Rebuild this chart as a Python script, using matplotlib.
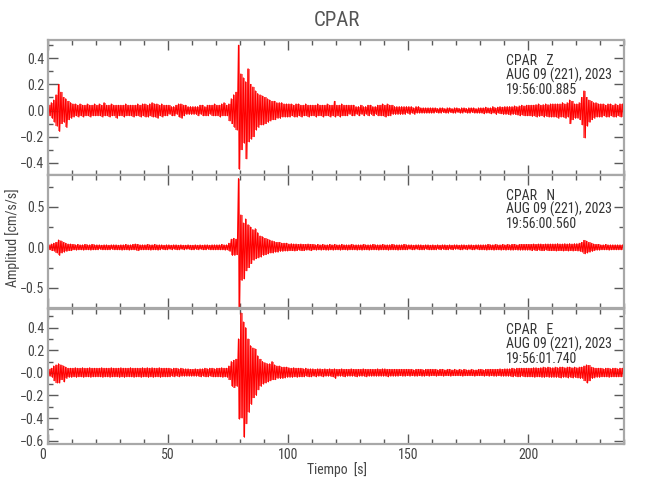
import os
import numpy as np
import matplotlib
matplotlib.use("Agg")
import matplotlib.pyplot as plt
import matplotlib.font_manager as fm
from matplotlib.ticker import MultipleLocator, FixedLocator, FixedFormatter
import matplotlib.transforms as mtransforms

# ---------------- data (envelope peaks read per 1 s bin) ----------------
station = "CPAR"
components = ["Z", "N", "E"]
start_times = ["19:56:00.885", "19:56:00.560", "19:56:01.740"]
date_label = "AUG 09 (221), 2023"

z_hi = [0.04, 0.06, 0.08, 0.12, 0.20, 0.14, 0.10, 0.09, 0.07, 0.06,
        0.05, 0.05, 0.04, 0.05, 0.04, 0.04, 0.05, 0.04, 0.04, 0.05,
        0.04, 0.05, 0.04, 0.06, 0.04, 0.04, 0.05, 0.04, 0.04, 0.04,
        0.04, 0.04, 0.05, 0.04, 0.04, 0.04, 0.04, 0.05, 0.04, 0.05,
        0.05, 0.04, 0.05, 0.06, 0.05, 0.05, 0.04, 0.05, 0.04, 0.04,
        0.04, 0.03, 0.03, 0.04, 0.05, 0.05, 0.04, 0.04, 0.03, 0.03,
        0.03, 0.03, 0.03, 0.04, 0.04, 0.03, 0.04, 0.04, 0.04, 0.05,
        0.04, 0.04, 0.05, 0.06, 0.04, 0.05, 0.09, 0.12, 0.14, 0.50,
        0.28, 0.25, 0.22, 0.32, 0.20, 0.18, 0.15, 0.13, 0.12, 0.11,
        0.10, 0.09, 0.08, 0.07, 0.07, 0.06, 0.06, 0.06, 0.05, 0.05,
        0.05, 0.05, 0.04, 0.05, 0.05, 0.04, 0.04, 0.05, 0.04, 0.04,
        0.04, 0.04, 0.05, 0.04, 0.04, 0.04, 0.05, 0.04, 0.04, 0.07,
        0.04, 0.04, 0.05, 0.04, 0.04, 0.04, 0.04, 0.04, 0.03, 0.03,
        0.04, 0.03, 0.03, 0.04, 0.04, 0.03, 0.03, 0.04, 0.04, 0.05,
        0.04, 0.05, 0.04, 0.04, 0.03, 0.03, 0.03, 0.03, 0.03, 0.03,
        0.03, 0.03, 0.02, 0.03, 0.03, 0.02, 0.02, 0.02, 0.02, 0.02,
        0.02, 0.02, 0.015, 0.02, 0.02, 0.015, 0.02, 0.02, 0.015, 0.02,
        0.02, 0.015, 0.02, 0.02, 0.015, 0.02, 0.02, 0.02, 0.015, 0.02,
        0.02, 0.02, 0.025, 0.02, 0.02, 0.03, 0.02, 0.025, 0.03, 0.025,
        0.03, 0.03, 0.03, 0.03, 0.035, 0.03, 0.035, 0.04, 0.035, 0.04,
        0.04, 0.04, 0.04, 0.045, 0.05, 0.04, 0.045, 0.05, 0.045, 0.05,
        0.05, 0.05, 0.05, 0.05, 0.06, 0.05, 0.06, 0.08, 0.07, 0.05,
        0.05, 0.06, 0.10, 0.15, 0.10, 0.08, 0.07, 0.06, 0.06, 0.05,
        0.05, 0.05, 0.04, 0.05, 0.05, 0.04, 0.05, 0.04, 0.05, 0.05]
z_lo = [-0.04, -0.06, -0.09, -0.12, -0.16, -0.10, -0.09, -0.13, -0.07, -0.06,
        -0.05, -0.04, -0.05, -0.04, -0.05, -0.04, -0.04, -0.05, -0.04, -0.04,
        -0.04, -0.04, -0.05, -0.04, -0.04, -0.05, -0.04, -0.04, -0.06, -0.04,
        -0.04, -0.05, -0.04, -0.04, -0.04, -0.05, -0.04, -0.04, -0.05, -0.04,
        -0.05, -0.05, -0.04, -0.05, -0.05, -0.06, -0.04, -0.05, -0.04, -0.04,
        -0.03, -0.04, -0.04, -0.03, -0.05, -0.06, -0.04, -0.03, -0.03, -0.03,
        -0.03, -0.03, -0.04, -0.03, -0.04, -0.04, -0.04, -0.03, -0.04, -0.04,
        -0.04, -0.05, -0.04, -0.04, -0.04, -0.08, -0.10, -0.13, -0.15, -0.45,
        -0.30, -0.25, -0.37, -0.24, -0.22, -0.20, -0.15, -0.13, -0.11, -0.11,
        -0.10, -0.09, -0.08, -0.07, -0.07, -0.06, -0.06, -0.05, -0.05, -0.05,
        -0.05, -0.04, -0.05, -0.05, -0.04, -0.05, -0.04, -0.04, -0.05, -0.04,
        -0.04, -0.05, -0.04, -0.04, -0.05, -0.04, -0.04, -0.05, -0.04, -0.05,
        -0.04, -0.05, -0.04, -0.04, -0.04, -0.03, -0.04, -0.04, -0.03, -0.04,
        -0.03, -0.04, -0.03, -0.04, -0.03, -0.04, -0.03, -0.04, -0.04, -0.04,
        -0.05, -0.04, -0.04, -0.03, -0.03, -0.03, -0.03, -0.03, -0.03, -0.02,
        -0.03, -0.02, -0.03, -0.02, -0.02, -0.02, -0.02, -0.02, -0.02, -0.02,
        -0.02, -0.015, -0.02, -0.02, -0.015, -0.02, -0.02, -0.015, -0.02, -0.02,
        -0.015, -0.02, -0.02, -0.015, -0.02, -0.02, -0.015, -0.02, -0.02, -0.02,
        -0.02, -0.025, -0.02, -0.02, -0.025, -0.02, -0.03, -0.02, -0.025, -0.03,
        -0.03, -0.03, -0.035, -0.03, -0.03, -0.035, -0.04, -0.035, -0.04, -0.04,
        -0.04, -0.045, -0.04, -0.05, -0.045, -0.04, -0.05, -0.045, -0.05, -0.05,
        -0.05, -0.05, -0.06, -0.05, -0.05, -0.06, -0.05, -0.10, -0.07, -0.06,
        -0.06, -0.07, -0.11, -0.21, -0.12, -0.09, -0.07, -0.06, -0.05, -0.05,
        -0.05, -0.04, -0.05, -0.05, -0.04, -0.05, -0.05, -0.04, -0.05, -0.05]

n_hi = [0.03, 0.04, 0.05, 0.06, 0.09, 0.08, 0.06, 0.05, 0.04, 0.04,
        0.035, 0.03, 0.035, 0.03, 0.03, 0.035, 0.03, 0.03, 0.035, 0.03,
        0.03, 0.03, 0.025, 0.03, 0.03, 0.025, 0.03, 0.03, 0.03, 0.025,
        0.03, 0.03, 0.035, 0.03, 0.03, 0.035, 0.04, 0.035, 0.03, 0.03,
        0.03, 0.035, 0.03, 0.03, 0.035, 0.03, 0.03, 0.03, 0.025, 0.03,
        0.03, 0.025, 0.03, 0.03, 0.025, 0.03, 0.025, 0.025, 0.03, 0.025,
        0.025, 0.03, 0.025, 0.03, 0.025, 0.03, 0.03, 0.025, 0.03, 0.03,
        0.03, 0.03, 0.035, 0.03, 0.03, 0.05, 0.10, 0.11, 0.10, 0.85,
        0.40, 0.30, 0.35, 0.28, 0.25, 0.22, 0.23, 0.18, 0.14, 0.13,
        0.11, 0.10, 0.09, 0.08, 0.07, 0.06, 0.06, 0.05, 0.05, 0.05,
        0.04, 0.045, 0.04, 0.04, 0.035, 0.04, 0.035, 0.035, 0.04, 0.035,
        0.035, 0.03, 0.035, 0.03, 0.035, 0.03, 0.03, 0.035, 0.03, 0.035,
        0.03, 0.03, 0.035, 0.03, 0.03, 0.03, 0.035, 0.03, 0.03, 0.03,
        0.03, 0.035, 0.03, 0.03, 0.03, 0.035, 0.03, 0.03, 0.03, 0.035,
        0.03, 0.03, 0.03, 0.035, 0.03, 0.03, 0.03, 0.03, 0.035, 0.03,
        0.03, 0.03, 0.025, 0.03, 0.03, 0.03, 0.025, 0.03, 0.03, 0.025,
        0.03, 0.025, 0.03, 0.025, 0.03, 0.03, 0.025, 0.03, 0.025, 0.03,
        0.03, 0.025, 0.03, 0.03, 0.025, 0.03, 0.03, 0.025, 0.03, 0.03,
        0.03, 0.03, 0.03, 0.035, 0.03, 0.03, 0.035, 0.03, 0.03, 0.035,
        0.03, 0.035, 0.03, 0.035, 0.035, 0.03, 0.035, 0.035, 0.035, 0.035,
        0.035, 0.035, 0.04, 0.035, 0.04, 0.04, 0.035, 0.04, 0.04, 0.04,
        0.04, 0.04, 0.045, 0.04, 0.04, 0.045, 0.04, 0.045, 0.04, 0.045,
        0.045, 0.05, 0.06, 0.085, 0.075, 0.06, 0.05, 0.04, 0.035, 0.035,
        0.03, 0.03, 0.035, 0.03, 0.03, 0.03, 0.03, 0.03, 0.03, 0.03]
n_lo = [-0.03, -0.04, -0.05, -0.07, -0.10, -0.07, -0.06, -0.05, -0.04, -0.04,
        -0.03, -0.035, -0.03, -0.03, -0.035, -0.03, -0.03, -0.035, -0.03, -0.03,
        -0.03, -0.025, -0.03, -0.03, -0.03, -0.03, -0.025, -0.03, -0.03, -0.03,
        -0.035, -0.03, -0.03, -0.035, -0.03, -0.03, -0.035, -0.04, -0.03, -0.03,
        -0.03, -0.03, -0.035, -0.03, -0.03, -0.035, -0.03, -0.025, -0.03, -0.03,
        -0.025, -0.03, -0.025, -0.03, -0.03, -0.025, -0.03, -0.025, -0.025, -0.03,
        -0.03, -0.025, -0.03, -0.025, -0.03, -0.03, -0.025, -0.03, -0.03, -0.03,
        -0.03, -0.03, -0.03, -0.035, -0.03, -0.05, -0.10, -0.10, -0.09, -0.74,
        -0.41, -0.39, -0.29, -0.25, -0.20, -0.16, -0.14, -0.13, -0.12, -0.10,
        -0.09, -0.08, -0.07, -0.07, -0.06, -0.06, -0.05, -0.05, -0.045, -0.045,
        -0.04, -0.04, -0.045, -0.04, -0.035, -0.04, -0.04, -0.035, -0.035, -0.04,
        -0.03, -0.035, -0.03, -0.035, -0.03, -0.035, -0.035, -0.03, -0.035, -0.03,
        -0.03, -0.035, -0.03, -0.03, -0.035, -0.03, -0.03, -0.03, -0.035, -0.03,
        -0.035, -0.03, -0.03, -0.035, -0.03, -0.03, -0.03, -0.035, -0.03, -0.03,
        -0.03, -0.035, -0.03, -0.03, -0.03, -0.035, -0.03, -0.03, -0.03, -0.03,
        -0.025, -0.03, -0.03, -0.025, -0.03, -0.03, -0.03, -0.025, -0.03, -0.03,
        -0.03, -0.03, -0.025, -0.03, -0.025, -0.03, -0.03, -0.025, -0.03, -0.025,
        -0.025, -0.03, -0.03, -0.025, -0.03, -0.025, -0.03, -0.03, -0.025, -0.03,
        -0.03, -0.03, -0.035, -0.03, -0.03, -0.035, -0.03, -0.03, -0.035, -0.03,
        -0.035, -0.03, -0.035, -0.035, -0.03, -0.035, -0.035, -0.035, -0.035, -0.035,
        -0.035, -0.04, -0.035, -0.04, -0.035, -0.04, -0.04, -0.035, -0.04, -0.04,
        -0.04, -0.045, -0.04, -0.04, -0.045, -0.04, -0.045, -0.04, -0.045, -0.04,
        -0.045, -0.05, -0.06, -0.08, -0.07, -0.06, -0.05, -0.04, -0.035, -0.035,
        -0.03, -0.03, -0.03, -0.035, -0.03, -0.03, -0.03, -0.03, -0.03, -0.03]

e_hi = [0.03, 0.04, 0.06, 0.07, 0.08, 0.07, 0.06, 0.05, 0.04, 0.04,
        0.04, 0.045, 0.04, 0.04, 0.045, 0.04, 0.04, 0.045, 0.04, 0.04,
        0.04, 0.04, 0.045, 0.04, 0.04, 0.04, 0.045, 0.04, 0.04, 0.04,
        0.045, 0.04, 0.04, 0.04, 0.045, 0.04, 0.04, 0.04, 0.04, 0.045,
        0.04, 0.045, 0.04, 0.045, 0.04, 0.04, 0.045, 0.04, 0.04, 0.04,
        0.04, 0.035, 0.04, 0.04, 0.035, 0.04, 0.035, 0.035, 0.035, 0.03,
        0.03, 0.035, 0.03, 0.035, 0.035, 0.04, 0.035, 0.04, 0.04, 0.035,
        0.04, 0.04, 0.045, 0.04, 0.04, 0.06, 0.10, 0.11, 0.12, 0.30,
        0.53, 0.45, 0.40, 0.30, 0.24, 0.22, 0.21, 0.15, 0.12, 0.10,
        0.09, 0.08, 0.08, 0.10, 0.07, 0.06, 0.06, 0.05, 0.05, 0.05,
        0.045, 0.04, 0.045, 0.04, 0.04, 0.04, 0.035, 0.04, 0.035, 0.035,
        0.035, 0.03, 0.035, 0.035, 0.03, 0.035, 0.03, 0.035, 0.03, 0.035,
        0.03, 0.03, 0.035, 0.03, 0.03, 0.03, 0.035, 0.03, 0.03, 0.03,
        0.03, 0.035, 0.03, 0.03, 0.03, 0.03, 0.03, 0.035, 0.03, 0.035,
        0.035, 0.03, 0.03, 0.03, 0.03, 0.03, 0.03, 0.03, 0.03, 0.03,
        0.03, 0.03, 0.025, 0.03, 0.03, 0.03, 0.025, 0.03, 0.03, 0.03,
        0.03, 0.03, 0.025, 0.03, 0.03, 0.025, 0.03, 0.03, 0.025, 0.03,
        0.025, 0.03, 0.025, 0.03, 0.025, 0.025, 0.03, 0.025, 0.025, 0.03,
        0.03, 0.025, 0.03, 0.03, 0.03, 0.03, 0.03, 0.03, 0.035, 0.03,
        0.035, 0.035, 0.035, 0.04, 0.035, 0.04, 0.04, 0.04, 0.04, 0.04,
        0.04, 0.04, 0.045, 0.045, 0.04, 0.045, 0.05, 0.045, 0.05, 0.045,
        0.045, 0.05, 0.045, 0.05, 0.05, 0.045, 0.05, 0.05, 0.045, 0.05,
        0.045, 0.05, 0.05, 0.06, 0.07, 0.065, 0.05, 0.045, 0.04, 0.04,
        0.04, 0.035, 0.04, 0.04, 0.035, 0.04, 0.04, 0.035, 0.04, 0.04]
e_lo = [-0.03, -0.04, -0.07, -0.09, -0.09, -0.06, -0.08, -0.05, -0.04, -0.04,
        -0.035, -0.04, -0.035, -0.035, -0.04, -0.035, -0.035, -0.04, -0.035, -0.035,
        -0.035, -0.035, -0.04, -0.035, -0.035, -0.04, -0.035, -0.035, -0.035, -0.04,
        -0.035, -0.04, -0.035, -0.035, -0.035, -0.04, -0.035, -0.035, -0.04, -0.035,
        -0.035, -0.04, -0.035, -0.04, -0.035, -0.035, -0.04, -0.035, -0.035, -0.035,
        -0.035, -0.03, -0.035, -0.03, -0.035, -0.03, -0.03, -0.03, -0.03, -0.03,
        -0.03, -0.03, -0.03, -0.035, -0.03, -0.035, -0.035, -0.03, -0.035, -0.035,
        -0.035, -0.035, -0.04, -0.035, -0.04, -0.06, -0.12, -0.13, -0.12, -0.41,
        -0.40, -0.57, -0.45, -0.35, -0.28, -0.22, -0.20, -0.15, -0.12, -0.10,
        -0.09, -0.08, -0.07, -0.06, -0.06, -0.05, -0.05, -0.05, -0.045, -0.04,
        -0.04, -0.04, -0.035, -0.04, -0.035, -0.035, -0.035, -0.03, -0.035, -0.035,
        -0.03, -0.035, -0.03, -0.03, -0.035, -0.03, -0.03, -0.03, -0.035, -0.05,
        -0.03, -0.03, -0.03, -0.035, -0.03, -0.03, -0.03, -0.03, -0.035, -0.03,
        -0.03, -0.03, -0.035, -0.03, -0.03, -0.03, -0.03, -0.03, -0.03, -0.03,
        -0.03, -0.035, -0.03, -0.03, -0.03, -0.03, -0.025, -0.03, -0.03, -0.025,
        -0.03, -0.025, -0.03, -0.03, -0.025, -0.03, -0.03, -0.025, -0.03, -0.025,
        -0.025, -0.03, -0.025, -0.025, -0.03, -0.025, -0.025, -0.03, -0.025, -0.025,
        -0.025, -0.025, -0.03, -0.025, -0.025, -0.025, -0.025, -0.03, -0.025, -0.025,
        -0.025, -0.03, -0.025, -0.03, -0.025, -0.03, -0.03, -0.025, -0.03, -0.03,
        -0.03, -0.03, -0.03, -0.035, -0.03, -0.035, -0.035, -0.03, -0.035, -0.035,
        -0.035, -0.035, -0.04, -0.035, -0.035, -0.04, -0.04, -0.035, -0.04, -0.04,
        -0.04, -0.04, -0.04, -0.045, -0.04, -0.04, -0.045, -0.04, -0.045, -0.04,
        -0.045, -0.05, -0.05, -0.07, -0.09, -0.07, -0.05, -0.045, -0.04, -0.04,
        -0.035, -0.035, -0.035, -0.04, -0.035, -0.035, -0.035, -0.035, -0.035, -0.035]

traces_hi = [z_hi, n_hi, e_hi]
traces_lo = [z_lo, n_lo, e_lo]

y_limits = [(-0.49, 0.54), (-0.75, 0.90), (-0.63, 0.565)]
y_ticks = [[-0.4, -0.2, 0.0, 0.2, 0.4], [-0.5, 0.0, 0.5],
           [-0.6, -0.4, -0.2, 0.0, 0.2, 0.4]]
y_ticklabels = [["\u22120.4", "\u22120.2", "0.0", "0.2", "0.4"],
                ["\u22120.5", "0.0", "0.5"],
                ["\u22120.6", "\u22120.4", "\u22120.2", "\u22120.0", "0.2", "0.4"]]
y_minor = [0.1, 0.25, 0.1]
x_ticks = [0, 50, 100, 150, 200]
x_ticklabels = ["0", "50", "100", "150", "200"]

# ---------------- font choice: narrow face if one is installed ----------------
def find_narrow():
    prefs = ["LiberationSansNarrow-Regular", "RobotoCondensed-Regular",
             "DejaVuSansCondensed.", "OpenSans_Condensed-Regular",
             "OpenSansCondensed-Regular", "NotoSans-Condensed."]
    files = [f.fname for f in fm.fontManager.ttflist]
    for p in prefs:
        for fn in files:
            if p in os.path.basename(fn):
                return fn
    return None

narrow_file = find_narrow()
if narrow_file:
    def fp(size):
        return fm.FontProperties(fname=narrow_file, size=size)
    scale = 1.0
else:
    def fp(size):
        return fm.FontProperties(family="Liberation Sans", size=size)
    scale = 0.9

# ---------------- figure ----------------
fig = plt.figure(figsize=(6.5, 5.0), dpi=100)
positions = [[0.0743, 0.651, 0.886, 0.269],
             [0.0743, 0.384, 0.886, 0.267],
             [0.0743, 0.112, 0.886, 0.270]]

spine_col = "#a8a8a8"
txt_col = "#454545"
tick_col = "#5a5a5a"
red = "#ff0000"

axes = []
for i in range(3):
    ax = fig.add_axes(positions[i])
    hi = np.asarray(traces_hi[i])
    lo = np.asarray(traces_lo[i])
    n = min(len(hi), len(lo))
    t = np.arange(n, dtype=float)
    ax.fill_between(t + 0.5, lo[:n], hi[:n], step="mid", color=red,
                    alpha=0.55, lw=0)
    xs = np.empty(2 * n)
    ys = np.empty(2 * n)
    xs[0::2] = t + 0.25
    xs[1::2] = t + 0.75
    ys[0::2] = hi[:n]
    ys[1::2] = lo[:n]
    ax.plot(xs, ys, color=red, lw=0.8)

    ax.set_xlim(0, 240)
    ax.set_ylim(*y_limits[i])
    ax.xaxis.set_major_locator(FixedLocator(x_ticks))
    ax.xaxis.set_minor_locator(MultipleLocator(10))
    ax.yaxis.set_major_locator(FixedLocator(y_ticks[i]))
    ax.yaxis.set_major_formatter(FixedFormatter(y_ticklabels[i]))
    ax.yaxis.set_minor_locator(MultipleLocator(y_minor[i]))
    ax.tick_params(which="both", direction="in", top=True, right=True,
                   colors=tick_col, labelcolor=txt_col)
    ax.tick_params(which="major", length=7.5, width=1.0)
    ax.tick_params(which="minor", length=3.8, width=1.0)
    ax.tick_params(axis="both", pad=3)
    for sp in ax.spines.values():
        sp.set_color(spine_col)
        sp.set_linewidth(1.6)
    if i < 2:
        ax.set_xticklabels([])
    else:
        ax.set_xticklabels(x_ticklabels)
    for lab in ax.get_xticklabels() + ax.get_yticklabels():
        lab.set_fontproperties(fp(10.0 * scale))

    comp_text = f"{station}   {components[i]}"
    for k, line in enumerate([comp_text, date_label, start_times[i]]):
        ax.annotate(line, xy=(0.794, 1.0), xycoords="axes fraction",
                    xytext=(0, -21 - 14.3 * k), textcoords="offset pixels",
                    ha="left", va="center", fontproperties=fp(10.0 * scale),
                    color="#333333")
    axes.append(ax)

# shift the "0" label slightly left as in the reference
lbl0 = axes[2].get_xticklabels()[0]
lbl0.set_transform(lbl0.get_transform() +
                   mtransforms.ScaledTranslation(-6 / 100, 0, fig.dpi_scale_trans))

fig.text(0.518, 0.958, station, ha="center", va="center",
         fontproperties=fp(15 * scale), color="#555555")
fig.text(0.019, 0.524, "Amplitud [cm/s/s]", rotation=90, ha="center",
         va="center", fontproperties=fp(10.0 * scale), color=txt_col)
fig.text(0.518, 0.06, "Tiempo  [s]", ha="center", va="center",
         fontproperties=fp(10.0 * scale), color=txt_col)

fig.savefig("out.png", dpi=100, facecolor="white")
